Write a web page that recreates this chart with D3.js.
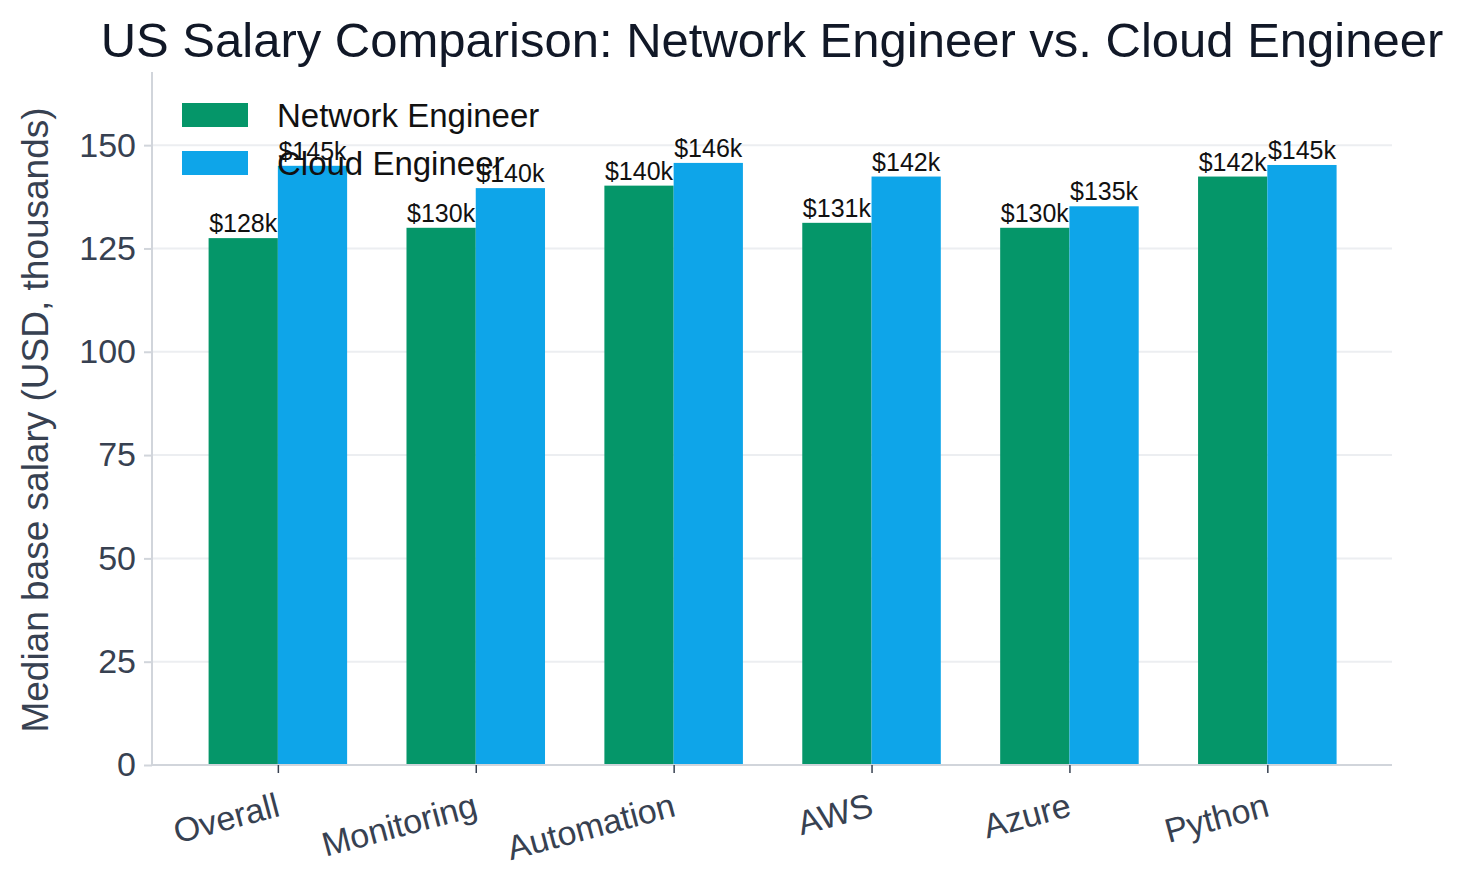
<!DOCTYPE html>
<html><head><meta charset="utf-8">
<script src="https://cdn.jsdelivr.net/npm/d3@7"></script>
<style>body{margin:0;background:#fff}text{font-family:"Liberation Sans",Arial,sans-serif}</style>
</head><body><svg id="c" width="1477" height="891"></svg>
<script>
const categories=["Overall","Monitoring","Automation","AWS","Azure","Python"];
const network=[127.5,130,140.2,131.2,130,142.4];
const cloud=[145,139.6,145.7,142.4,135.2,145.2];
const labelsNet=["$128k","$130k","$140k","$131k","$130k","$142k"];
const labelsCloud=["$145k","$140k","$146k","$142k","$135k","$145k"];
const yTicks=[0,25,50,75,100,125,150];
const series=[{name:"Network Engineer",color:"#059669",vals:network,labels:labelsNet,off:-0.5},
              {name:"Cloud Engineer",color:"#0ea5e9",vals:cloud,labels:labelsCloud,off:0.5}];
const svg=d3.select("#c");
const L=152,R=1392,T=72,B=765;
const x=d3.scaleLinear().domain([-0.636,5.63]).range([L,R]);
const y=d3.scaleLinear().domain([0,167.7]).range([B,T]);
const bw=x(0.35)-x(0);
svg.append("g").selectAll("line").data(yTicks.slice(1)).join("line")
 .attr("x1",L).attr("x2",R).attr("y1",d=>y(d)).attr("y2",d=>y(d)).attr("stroke","#eceef1").attr("stroke-width",2);
series.forEach(s=>{
 svg.append("g").selectAll("rect").data(s.vals).join("rect")
  .attr("x",(d,i)=>x(i)+(s.off<0?-bw:0)).attr("width",bw)
  .attr("y",d=>y(d)).attr("height",d=>B-y(d)).attr("fill",s.color);
 svg.append("g").selectAll("text").data(s.vals).join("text")
  .attr("x",(d,i)=>x(i)+s.off*bw).attr("y",d=>y(d)-6).attr("text-anchor","middle")
  .attr("font-size",25).attr("fill","#111").text((d,i)=>s.labels[i]);
});
const ya=svg.append("g").attr("transform",`translate(${L},0)`).call(d3.axisLeft(y).tickValues(yTicks).tickSize(8).tickPadding(8));
ya.select(".domain").attr("stroke","#d1d5db").attr("stroke-width",2).attr("d",`M0,${T}V${B}`);
ya.selectAll(".tick line").attr("stroke","#d1d5db").attr("stroke-width",2);
ya.selectAll("text").attr("font-size",34).attr("fill","#374151");
const xa=svg.append("g").attr("transform",`translate(0,${B})`).call(d3.axisBottom(x).tickValues(d3.range(6)).tickFormat(i=>categories[i]).tickSize(8));
xa.select(".domain").attr("stroke","#d1d5db").attr("stroke-width",2).attr("d",`M${L},0H${R}`);
xa.selectAll(".tick line").attr("stroke","#374151").attr("stroke-width",1.5);
xa.selectAll("text").attr("font-size",34).attr("fill","#374151").attr("text-anchor","end")
 .attr("dy",0).attr("transform","translate(0,40) rotate(-15)");
svg.append("text").attr("x",772).attr("y",57).attr("text-anchor","middle").attr("font-size",49).attr("fill","#111827")
 .text("US Salary Comparison: Network Engineer vs. Cloud Engineer");
svg.append("text").attr("transform","translate(48,420) rotate(-90)").attr("text-anchor","middle").attr("font-size",37).attr("fill","#374151")
 .text("Median base salary (USD, thousands)");
series.forEach((s,i)=>{
 svg.append("rect").attr("x",182).attr("y",103+i*48).attr("width",66).attr("height",24).attr("fill",s.color);
 svg.append("text").attr("x",277).attr("y",127+i*48).attr("font-size",33).attr("fill","#111").text(s.name);
});
</script></body></html>
